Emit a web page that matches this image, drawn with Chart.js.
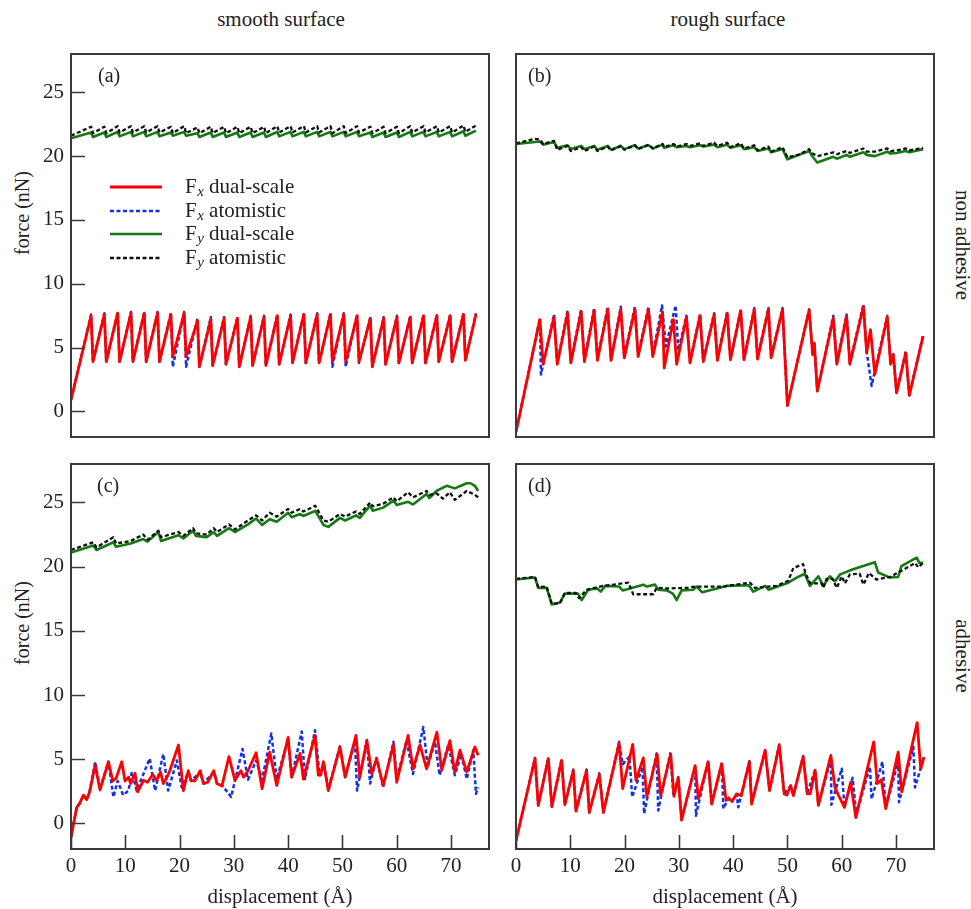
<!DOCTYPE html>
<html><head><meta charset="utf-8">
<script src="https://cdn.jsdelivr.net/npm/chart.js@4/dist/chart.umd.min.js"></script>
<style>
body{margin:0;width:971px;height:909px;position:relative;background:#fff;overflow:hidden;font-family:"Liberation Serif","Times New Roman",serif;color:#222;}
canvas{position:absolute;}
.lbl{position:absolute;font-size:21px;white-space:nowrap;line-height:1;}
</style></head><body>
<div class="lbl" style="left:281px;top:19px;transform:translate(-50%,-50%)">smooth surface</div>
<div class="lbl" style="left:728px;top:19px;transform:translate(-50%,-50%)">rough surface</div>
<div class="lbl" style="left:962px;top:245px;transform:translate(-50%,-50%) rotate(90deg)">non adhesive</div>
<div class="lbl" style="left:962px;top:656px;transform:translate(-50%,-50%) rotate(90deg)">adhesive</div>
<div class="lbl" style="left:22px;top:213px;font-size:20px;transform:translate(-50%,-50%) rotate(-90deg)">force (nN)</div>
<div class="lbl" style="left:22px;top:623px;font-size:20px;transform:translate(-50%,-50%) rotate(-90deg)">force (nN)</div>
<canvas id="ca" width="500" height="420" style="left:0;top:30px"></canvas>
<canvas id="cb" width="471" height="420" style="left:500px;top:30px"></canvas>
<canvas id="cc" width="500" height="459" style="left:0;top:450px"></canvas>
<canvas id="cd" width="471" height="459" style="left:500px;top:450px"></canvas>
<script>
// ---------- axis ticks / labels ----------
const xTicks = [0,10,20,30,40,50,60,70];
const yTicks = [0,5,10,15,20,25];
const xTitle = 'displacement (Å)';
const seriesNames = ['dual-scale','atomistic','dual-scale','atomistic'];
const seriesSubs = ['x','x','y','y'];

// ---------- (a) smooth, non adhesive ----------
const aFxDual = [[0,0.9],[3.7,7.5],[4.05,3.9],[6.15,7.6],[6.5,3.9],[8.6,7.7],[8.95,3.9],[11.05,7.7],[11.4,3.9],[13.5,7.7],[13.85,3.9],[15.95,7.7],[16.3,3.9],[18.4,7.6],[18.75,4.3],[20.85,7.7],[21.2,4.3],[23.3,7.1],[23.65,3.5],[25.75,7.2],[26.1,3.6],[28.2,7.3],[28.55,3.7],[30.65,7.3],[31.0,3.5],[33.1,7.4],[33.45,3.6],[35.55,7.4],[35.9,3.6],[38.0,7.5],[38.35,3.7],[40.45,7.5],[40.8,3.8],[42.9,7.6],[43.25,3.8],[45.35,7.6],[45.7,3.8],[47.8,7.6],[48.15,3.9],[50.25,7.6],[50.6,3.9],[52.7,7.5],[53.05,3.9],[55.15,7.3],[55.5,3.5],[57.6,7.3],[57.95,3.7],[60.05,7.4],[60.4,3.8],[62.5,7.4],[62.85,3.8],[64.95,7.5],[65.3,3.8],[67.4,7.5],[67.75,3.9],[69.85,7.5],[70.2,3.9],[72.3,7.6],[72.65,4.0],[74.6,7.6]];
const aFxAtom = [[0,0.9],[3.7,7.6],[4.05,3.9],[6.15,7.7],[6.5,3.9],[8.6,7.8],[8.95,3.9],[11.05,7.8],[11.4,3.9],[13.5,7.8],[13.85,3.9],[15.95,7.8],[16.3,3.9],[18.4,7.7],[18.75,3.5],[20.85,7.8],[21.2,3.5],[23.3,7.3],[23.65,3.5],[25.75,7.4],[26.1,3.6],[28.2,7.4],[28.55,3.7],[30.65,7.4],[31.0,3.5],[33.1,7.5],[33.45,3.6],[35.55,7.5],[35.9,3.6],[38.0,7.6],[38.35,3.7],[40.45,7.6],[40.8,3.8],[42.9,7.7],[43.25,3.8],[45.35,7.7],[45.7,3.8],[47.8,7.7],[48.15,3.5],[50.25,7.7],[50.6,3.5],[52.7,7.6],[53.05,3.8],[55.15,7.4],[55.5,3.5],[57.6,7.4],[57.95,3.7],[60.05,7.5],[60.4,3.8],[62.5,7.5],[62.85,3.8],[64.95,7.6],[65.3,3.8],[67.4,7.6],[67.75,3.9],[69.85,7.6],[70.2,3.9],[72.3,7.7],[72.65,4.0],[74.6,7.7]];
const aFyDual = [[0,21.4],[3.7,21.85],[4.05,21.5],[6.15,21.85],[6.5,21.5],[8.6,21.9],[8.95,21.55],[11.05,21.9],[11.4,21.55],[13.5,21.9],[13.85,21.55],[15.95,21.9],[16.3,21.55],[18.4,21.85],[18.75,21.6],[20.85,21.9],[21.2,21.6],[23.3,21.8],[23.65,21.5],[25.75,21.85],[26.1,21.5],[28.2,21.85],[28.55,21.5],[30.65,21.85],[31.0,21.5],[33.1,21.85],[33.45,21.5],[35.55,21.85],[35.9,21.5],[38.0,21.9],[38.35,21.55],[40.45,21.9],[40.8,21.55],[42.9,21.9],[43.25,21.55],[45.35,21.9],[45.7,21.55],[47.8,21.9],[48.15,21.55],[50.25,21.9],[50.6,21.55],[52.7,21.9],[53.05,21.55],[55.15,21.85],[55.5,21.5],[57.6,21.85],[57.95,21.5],[60.05,21.85],[60.4,21.5],[62.5,21.9],[62.85,21.55],[64.95,21.9],[65.3,21.55],[67.4,21.9],[67.75,21.55],[69.85,21.9],[70.2,21.55],[72.3,21.95],[72.65,21.6],[74.6,22.0]];
const aFyAtom = [[0,21.6],[3.7,22.3],[4.05,21.8],[6.15,22.3],[6.5,21.8],[8.6,22.35],[8.95,21.85],[11.05,22.35],[11.4,21.85],[13.5,22.35],[13.85,21.85],[15.95,22.35],[16.3,21.85],[18.4,22.3],[18.75,21.8],[20.85,22.35],[21.2,21.8],[23.3,22.25],[23.65,21.8],[25.75,22.3],[26.1,21.8],[28.2,22.3],[28.55,21.8],[30.65,22.3],[31.0,21.8],[33.1,22.3],[33.45,21.8],[35.55,22.3],[35.9,21.8],[38.0,22.35],[38.35,21.85],[40.45,22.35],[40.8,21.85],[42.9,22.35],[43.25,21.85],[45.35,22.35],[45.7,21.85],[47.8,22.35],[48.15,21.8],[50.25,22.35],[50.6,21.8],[52.7,22.35],[53.05,21.85],[55.15,22.3],[55.5,21.8],[57.6,22.3],[57.95,21.8],[60.05,22.3],[60.4,21.8],[62.5,22.35],[62.85,21.85],[64.95,22.35],[65.3,21.85],[67.4,22.35],[67.75,21.85],[69.85,22.35],[70.2,21.85],[72.3,22.4],[72.65,21.9],[74.6,22.4]];

// ---------- (b) rough, non adhesive ----------
const bFxDual = [[0,-1.6],[4.4,7.2],[5.0,3.7],[7.0,7.4],[7.6,3.7],[9.5,7.7],[10.1,3.8],[12.0,7.8],[12.6,3.9],[14.4,7.9],[15.0,4.0],[16.9,8.0],[17.5,4.0],[19.3,8.0],[19.95,4.2],[21.9,8.0],[22.5,4.3],[24.4,8.0],[25.2,4.3],[27.0,7.8],[27.3,3.4],[29.0,7.2],[29.6,3.7],[31.4,7.4],[32.05,3.8],[33.9,7.5],[34.5,3.9],[36.5,7.6],[37.1,4.0],[38.9,7.7],[39.5,4.05],[41.4,7.9],[42.0,4.05],[43.9,8.0],[44.5,4.1],[46.5,8.0],[47.0,4.2],[49.1,8.0],[50.0,0.45],[54.0,7.95],[54.65,4.45],[54.95,5.35],[55.5,1.6],[58.45,7.3],[59.1,3.7],[60.9,7.45],[61.5,3.7],[64.0,8.2],[64.6,4.6],[65.3,6.4],[66.1,2.9],[68.4,7.4],[69.0,3.7],[69.5,4.45],[70.1,1.45],[71.8,4.6],[72.45,1.25],[75.0,5.9]];
const bFxAtom = [[0,-1.6],[4.4,7.3],[4.6,2.9],[7.0,7.6],[7.6,3.8],[9.5,7.9],[10.1,3.9],[12.0,8.0],[12.6,4.0],[14.4,8.1],[15.0,4.1],[16.9,8.2],[17.5,4.1],[19.3,8.2],[19.95,4.3],[21.9,8.2],[22.5,4.4],[24.4,8.2],[25.2,4.4],[26.9,8.3],[27.6,5.1],[29.4,8.3],[29.9,4.8],[31.4,7.5],[32.05,3.9],[33.9,7.6],[34.5,4.0],[36.5,7.7],[37.1,4.1],[38.9,7.8],[39.5,4.1],[41.4,8.0],[42.0,4.1],[43.9,8.1],[44.5,4.2],[46.5,8.1],[47.0,4.3],[49.1,8.1],[50.0,0.5],[54.0,8.0],[54.65,4.5],[54.95,5.4],[55.5,1.6],[58.45,7.5],[59.1,3.8],[60.9,7.6],[61.5,3.8],[64.0,8.4],[64.6,4.7],[65.5,2.0],[68.4,7.5],[69.0,3.8],[69.5,4.5],[70.1,1.5],[71.8,4.7],[72.45,1.3],[75.0,6.0]];
const bFyDual = [[0,20.95],[4.4,21.15],[5.0,20.9],[7.0,21.1],[7.6,20.65],[9.5,20.85],[10.1,20.55],[12.0,20.8],[12.6,20.55],[14.4,20.8],[15.0,20.5],[16.9,20.8],[17.5,20.5],[19.3,20.8],[19.95,20.55],[21.9,20.85],[22.5,20.6],[24.4,20.85],[25.2,20.6],[27.0,20.9],[27.3,20.65],[29.0,20.85],[29.6,20.7],[31.4,20.8],[32.05,20.7],[33.9,20.85],[34.5,20.75],[36.5,20.9],[37.1,20.7],[38.9,20.9],[39.5,20.65],[41.4,20.85],[42.0,20.55],[43.9,20.7],[44.5,20.4],[46.5,20.6],[47.0,20.3],[49.1,20.55],[50.0,19.75],[54.0,20.4],[54.65,19.95],[55.5,19.5],[58.45,19.95],[59.1,19.8],[60.9,20.1],[61.5,19.95],[64.0,20.3],[64.6,20.1],[66.1,20.0],[68.4,20.35],[69.0,20.2],[70.1,20.25],[71.8,20.4],[72.45,20.3],[75.0,20.55]];
const bFyAtom = [[0,21.0],[3.5,21.35],[4.4,21.3],[5.0,20.95],[7.0,21.2],[7.6,20.5],[9.5,20.8],[10.1,20.4],[12.0,20.7],[12.6,20.4],[14.4,20.75],[15.0,20.4],[16.9,20.75],[17.5,20.45],[19.3,20.8],[19.95,20.5],[21.9,20.85],[22.5,20.55],[24.4,20.9],[25.2,20.6],[27.0,20.95],[27.3,20.7],[29.0,20.95],[29.6,20.75],[31.4,20.95],[32.05,20.8],[33.9,21.0],[34.5,20.8],[36.5,21.05],[37.1,20.8],[38.9,21.05],[39.5,20.7],[41.4,21.0],[42.0,20.6],[43.9,20.85],[44.5,20.45],[46.5,20.75],[47.0,20.35],[49.1,20.7],[50.0,19.9],[52.3,20.15],[54.0,20.55],[54.65,20.2],[55.5,20.0],[58.45,20.3],[59.1,20.15],[60.9,20.4],[61.5,20.25],[64.0,20.6],[64.6,20.35],[66.1,20.35],[68.4,20.6],[69.0,20.4],[70.1,20.45],[71.8,20.6],[72.45,20.45],[75.0,20.65]];

// ---------- (c) smooth, adhesive ----------
const cFxDual = [[0,-1.1],[1.05,1.25],[1.6,1.55],[2.3,2.2],[2.9,1.85],[3.4,2.4],[4.45,4.5],[5.35,2.6],[6.9,4.8],[7.7,3.3],[8.3,3.5],[9.35,4.8],[9.95,3.3],[10.6,3.6],[11.0,3.1],[11.8,3.9],[12.3,2.45],[13.35,3.35],[14.1,3.2],[15.05,3.8],[15.8,3.35],[16.5,4.0],[17.0,3.1],[17.7,3.6],[18.2,4.1],[19.8,6.1],[20.7,2.55],[21.6,4.1],[22.1,3.35],[22.8,3.3],[23.8,4.1],[24.4,3.1],[25.2,3.2],[26.3,4.1],[26.9,3.1],[27.8,2.9],[29.1,5.2],[30.2,3.35],[31.3,4.1],[31.8,3.6],[32.6,4.1],[34.1,5.5],[35.2,2.7],[36.6,5.55],[37.9,2.95],[40.0,6.7],[40.65,3.6],[42.2,5.45],[42.8,3.45],[44.95,6.85],[45.55,3.75],[46.0,3.75],[46.5,4.8],[47.4,2.55],[49.55,5.95],[50.5,3.6],[52.5,6.85],[53.2,3.6],[54.5,6.45],[55.4,3.85],[56.3,5.05],[57.5,2.95],[59.4,6.1],[60.0,3.2],[62.1,6.85],[63.0,4.25],[64.3,6.1],[65.5,4.25],[67.4,7.1],[68.3,4.15],[69.8,6.45],[70.7,4.0],[71.65,5.7],[72.9,4.0],[74.4,5.95],[75.0,5.3]];
const cFxAtom = [[0,-1.1],[1.05,1.25],[1.6,1.55],[2.3,2.2],[2.9,1.85],[3.4,2.4],[4.45,4.8],[5.35,2.7],[6.9,4.8],[7.8,2.05],[8.6,3.3],[9.6,2.2],[10.6,2.55],[11.2,4.0],[12.1,2.55],[14.5,5.05],[15.5,2.55],[17.0,5.4],[17.9,2.55],[19.5,4.9],[20.4,2.8],[21.6,4.0],[22.1,3.3],[23.8,4.0],[24.4,3.1],[26.3,4.0],[26.9,3.1],[27.8,3.0],[29.5,2.05],[31.6,5.8],[32.6,3.4],[34.1,4.9],[35.2,3.4],[36.9,7.0],[37.9,3.45],[40.0,6.6],[40.65,3.6],[42.5,7.15],[43.1,3.45],[44.95,7.25],[45.8,3.75],[46.6,4.6],[47.4,2.7],[49.55,6.0],[50.5,3.6],[52.3,6.35],[52.7,2.55],[54.5,6.5],[55.1,3.1],[56.3,5.1],[57.5,2.8],[59.4,6.35],[60.0,3.45],[61.8,6.45],[63.0,3.85],[64.9,7.5],[65.7,4.4],[67.05,6.35],[67.9,3.75],[69.5,6.1],[70.7,3.75],[71.9,5.4],[72.9,3.45],[74.1,5.7],[74.6,2.3],[75.0,2.8]];
const cFyDual = [[0,21.1],[4.1,21.65],[4.7,21.3],[7.8,21.9],[8.3,21.55],[11.0,21.8],[13.3,22.15],[14.1,21.95],[16.1,22.7],[16.6,22.0],[19.8,22.45],[20.7,22.2],[22.5,22.8],[23.0,22.4],[25.0,22.3],[26.3,22.7],[26.9,22.4],[29.1,23.0],[30.2,22.7],[32.6,23.3],[34.1,23.75],[35.2,23.25],[36.6,23.7],[37.9,23.5],[40.0,24.2],[40.65,23.85],[42.2,24.1],[42.8,23.95],[45.0,24.35],[46.5,23.25],[47.4,23.1],[49.55,23.8],[50.5,23.6],[52.5,24.0],[53.2,23.8],[55.1,24.75],[55.6,24.35],[57.5,24.6],[59.4,25.15],[60.0,24.8],[62.1,25.05],[63.0,24.85],[65.5,25.66],[66.0,25.35],[67.4,25.92],[69.2,26.3],[70.7,26.1],[72.9,26.5],[73.6,26.5],[74.4,26.3],[75.0,25.9]];
const cFyAtom = [[0,21.3],[4.1,21.9],[4.7,21.5],[7.8,22.3],[8.3,21.8],[11.0,22.0],[13.3,22.5],[14.1,22.1],[16.1,22.8],[16.6,22.3],[19.8,22.7],[20.7,22.4],[22.5,23.0],[23.0,22.6],[25.0,22.5],[26.3,23.0],[26.9,22.7],[29.1,23.3],[30.2,22.9],[32.6,23.6],[34.1,24.0],[35.2,23.6],[36.6,24.2],[37.9,23.9],[40.0,24.5],[40.65,24.2],[42.2,24.5],[42.8,24.3],[45.0,24.75],[46.5,23.6],[47.4,23.5],[49.55,24.1],[50.5,23.9],[52.5,24.3],[53.2,24.1],[55.1,25.0],[55.6,24.7],[57.5,24.9],[59.4,25.4],[60.0,25.1],[62.1,25.8],[63.0,25.4],[65.5,25.9],[66.0,25.6],[67.4,25.7],[68.5,25.3],[69.8,25.8],[70.7,25.2],[72.9,25.9],[74.4,25.6],[75.0,25.4]];

// ---------- (d) rough, adhesive ----------
const dFxDual = [[0,-1.35],[3.5,5.05],[4.1,1.4],[5.95,5.05],[6.6,1.3],[8.4,4.9],[9.0,1.45],[10.55,4.1],[11.05,0.95],[13.0,4.1],[13.5,0.85],[15.35,3.8],[16.1,0.85],[19.0,6.25],[19.65,2.7],[21.5,6.15],[22.1,3.35],[23.45,5.1],[24.1,2.05],[26.0,5.4],[26.65,2.15],[28.5,5.4],[29.1,2.1],[29.9,3.55],[30.5,0.25],[33.0,4.5],[33.6,1.9],[35.4,4.8],[36.05,1.5],[37.9,4.65],[38.7,1.8],[39.2,1.95],[39.8,1.7],[40.65,2.3],[41.5,2.15],[43.0,4.8],[43.4,1.5],[45.9,5.7],[46.7,2.55],[48.5,6.1],[49.4,2.3],[49.9,2.2],[50.6,2.95],[51.1,2.15],[52.9,5.2],[53.65,2.3],[54.2,2.3],[55.1,4.15],[55.7,1.4],[58.0,5.3],[58.75,2.8],[59.4,2.2],[60.5,1.25],[61.65,3.2],[62.6,0.45],[65.9,6.35],[66.55,3.1],[67.3,3.4],[68.1,1.15],[70.4,5.55],[71.05,2.45],[73.9,7.85],[74.55,4.25],[75.15,5.15]];
const dFxAtom = [[0,-1.35],[3.5,5.1],[4.1,1.4],[5.95,5.1],[6.6,1.3],[8.4,5.0],[9.0,1.45],[10.55,4.2],[11.05,0.95],[13.0,4.2],[13.5,0.85],[15.35,3.9],[16.1,0.85],[19.0,6.35],[19.65,4.6],[20.9,5.2],[21.4,2.05],[23.3,4.4],[23.6,0.75],[25.9,5.45],[26.2,1.0],[28.4,5.45],[29.0,2.2],[29.9,3.6],[30.5,0.3],[33.0,4.45],[33.15,0.6],[35.4,4.85],[36.05,1.55],[37.9,4.7],[38.2,1.15],[39.2,2.0],[39.8,1.75],[40.65,2.2],[40.95,1.25],[43.0,4.85],[43.4,1.6],[45.9,5.65],[46.7,2.6],[48.5,6.15],[49.4,2.35],[50.6,2.9],[51.1,2.2],[52.9,5.25],[53.65,2.35],[55.1,4.15],[55.7,1.45],[58.0,5.0],[58.1,1.45],[60.0,4.25],[60.5,1.3],[62.0,3.55],[62.7,0.7],[65.2,4.4],[65.5,1.9],[67.5,4.8],[68.1,1.2],[70.4,4.8],[70.55,1.65],[73.2,5.95],[73.5,2.8],[75.15,5.15]];
const dFyDual = [[0,19.0],[3.5,19.15],[4.1,18.35],[5.65,18.35],[6.6,17.05],[8.1,17.2],[9.0,17.9],[11.4,17.9],[12.1,17.4],[13.3,18.2],[15.0,18.3],[15.6,18.05],[16.4,18.5],[19.0,18.45],[19.65,18.15],[23.45,18.6],[24.1,18.45],[25.6,18.6],[26.2,18.2],[27.75,18.15],[28.9,17.9],[29.6,17.4],[30.5,18.15],[32.6,18.2],[33.3,18.45],[34.3,18.0],[38.8,18.5],[42.9,18.55],[43.7,18.05],[45.9,18.5],[46.5,18.2],[50.15,18.75],[51.7,19.15],[53.2,19.45],[54.15,18.5],[55.7,19.25],[56.6,18.5],[57.8,19.25],[58.75,18.85],[59.7,19.4],[62.1,19.8],[66.1,20.35],[66.7,19.55],[68.9,19.15],[70.4,19.2],[71.0,20.05],[73.8,20.7],[74.3,20.3],[75.0,20.3]];
const dFyAtom = [[0,19.05],[3.5,19.2],[4.1,18.4],[5.65,18.45],[6.6,17.1],[8.1,17.15],[9.0,17.95],[11.0,17.95],[11.6,17.55],[13.0,18.2],[16.0,18.5],[20.7,18.75],[21.6,17.85],[25.3,17.85],[25.9,18.35],[28.0,18.3],[31.5,18.35],[33.0,18.45],[38.0,18.45],[43.1,18.75],[44.0,18.35],[48.0,18.5],[50.15,18.9],[51.1,19.9],[52.9,20.2],[53.3,19.5],[54.2,18.7],[56.3,18.7],[56.6,18.35],[57.2,19.05],[58.3,19.05],[59.1,18.35],[60.0,19.25],[60.6,18.7],[61.5,19.4],[63.3,19.45],[64.0,18.6],[65.0,19.5],[66.4,19.0],[68.9,19.2],[72.6,20.05],[73.5,20.3],[74.1,19.95],[75.0,20.3]];

// ---------- styles ----------
const FONT = '"Liberation Serif","Times New Roman",serif';
const TXT = '#222';
const styles = [
  {color:'#ff0000', width:2.8, dash:[], order:2},
  {color:'#1030ee', width:2.5, dash:[4,2.5], order:3},
  {color:'#137a13', width:2.6, dash:[], order:1},
  {color:'#111111', width:2.3, dash:[4,2.5], order:0}
];
const toXY = arr => arr.map(p => ({x:p[0], y:p[1]}));
function makeSets(list){
  return list.map((d,i)=>({
    label:'F'+seriesSubs[i]+' '+seriesNames[i],
    data:toXY(d), showLine:true, pointRadius:0, fill:false, tension:0,
    borderColor:styles[i].color, borderWidth:styles[i].width, borderDash:styles[i].dash,
    borderJoinStyle:'round', borderCapStyle:'butt',
    order:styles[i].order
  }));
}

const framePlugin = {
  id:'frameTicks',
  afterDraw(chart, args, o){
    const {ctx, chartArea:a, scales} = chart;
    ctx.save();
    ctx.strokeStyle = '#3a3a3a'; ctx.lineWidth = 1.6;
    ctx.beginPath();
    if (o.yTicks) scales.y.ticks.forEach(t=>{const p=Math.round(scales.y.getPixelForValue(t.value))+0.5; ctx.moveTo(a.left,p); ctx.lineTo(a.left+14,p);});
    if (o.xTicks) scales.x.ticks.forEach(t=>{const p=Math.round(scales.x.getPixelForValue(t.value))+0.5; ctx.moveTo(p,a.bottom); ctx.lineTo(p,a.bottom-14);});
    ctx.stroke();
    ctx.lineWidth = 2;
    ctx.strokeRect(a.left, a.top, a.right-a.left, a.bottom-a.top);
    // panel label
    ctx.fillStyle = TXT; ctx.font = '20px '+FONT; ctx.textBaseline='middle'; ctx.textAlign='left';
    ctx.fillText(o.label, a.left + o.lx, a.top + 23);
    // legend
    if (o.legend) {
      const rows = [157,181,204,228];
      chart.data.datasets.forEach((ds,i)=>{
        const y = rows[i];
        ctx.beginPath(); ctx.setLineDash(ds.borderDash); ctx.strokeStyle = ds.borderColor; ctx.lineWidth = ds.borderWidth;
        ctx.moveTo(110,y); ctx.lineTo(162,y); ctx.stroke(); ctx.setLineDash([]);
        ctx.fillStyle = TXT;
        ctx.font = '21px '+FONT; ctx.fillText('F',185,y);
        let x = 185 + ctx.measureText('F').width + 0.5;
        ctx.font = 'italic 15px '+FONT; ctx.fillText(seriesSubs[i], x, y+5);
        x += ctx.measureText(seriesSubs[i]).width;
        ctx.font = '21px '+FONT; ctx.fillText(' '+seriesNames[i], x, y);
      });
    }
    ctx.restore();
  }
};

function makeChart(id, list, o){
  return new Chart(document.getElementById(id), {
    type:'scatter',
    data:{datasets:makeSets(list)},
    options:{
      responsive:false, animation:false, events:[],
      layout:{padding:{top:o.pt, right:o.pr, bottom:0, left:0}},
      plugins:{legend:{display:false}, tooltip:{enabled:false},
        frameTicks:{yTicks:o.ylab, xTicks:o.xlab, label:o.label, lx:o.lx, legend:!!o.legend}},
      scales:{
        x:{type:'linear', min:0, max:77,
          afterBuildTicks:s=>{s.ticks = xTicks.map(v=>({value:v}));},
          afterFit:s=>{s.height=o.xh; s.paddingLeft=0; s.paddingRight=0; s.paddingTop=0; s.paddingBottom=0;},
          grid:{display:false, drawTicks:false}, border:{display:false},
          ticks:{display:o.xlab, autoSkip:false, maxRotation:0, padding:5, color:TXT, font:{family:FONT, size:21}},
          title:{display:o.xlab, text:xTitle, color:TXT, padding:{top:0,bottom:0}, font:{family:FONT, size:21, lineHeight:1.1}}},
        y:{type:'linear', min:-2, max:28,
          afterBuildTicks:s=>{s.ticks = yTicks.map(v=>({value:v}));},
          afterFit:s=>{s.width=o.yw; s.paddingLeft=0; s.paddingRight=0; s.paddingTop=0; s.paddingBottom=0;},
          grid:{display:false, drawTicks:false}, border:{display:false},
          ticks:{display:o.ylab, autoSkip:false, padding:7, color:TXT, font:{family:FONT, size:21}}}
      }
    },
    plugins:[framePlugin]
  });
}

makeChart('ca',[aFxDual,aFxAtom,aFyDual,aFyAtom],{pt:24,pr:11,xh:13,yw:71,xlab:false,ylab:true,label:'(a)',lx:27,legend:true});
makeChart('cb',[bFxDual,bFxAtom,bFyDual,bFyAtom],{pt:24,pr:37,xh:13,yw:16,xlab:false,ylab:false,label:'(b)',lx:12});
makeChart('cc',[cFxDual,cFxAtom,cFyDual,cFyAtom],{pt:14,pr:11,xh:60,yw:71,xlab:true,ylab:true,label:'(c)',lx:26});
makeChart('cd',[dFxDual,dFxAtom,dFyDual,dFyAtom],{pt:14,pr:37,xh:60,yw:16,xlab:true,ylab:false,label:'(d)',lx:12});
</script>
</body></html>
